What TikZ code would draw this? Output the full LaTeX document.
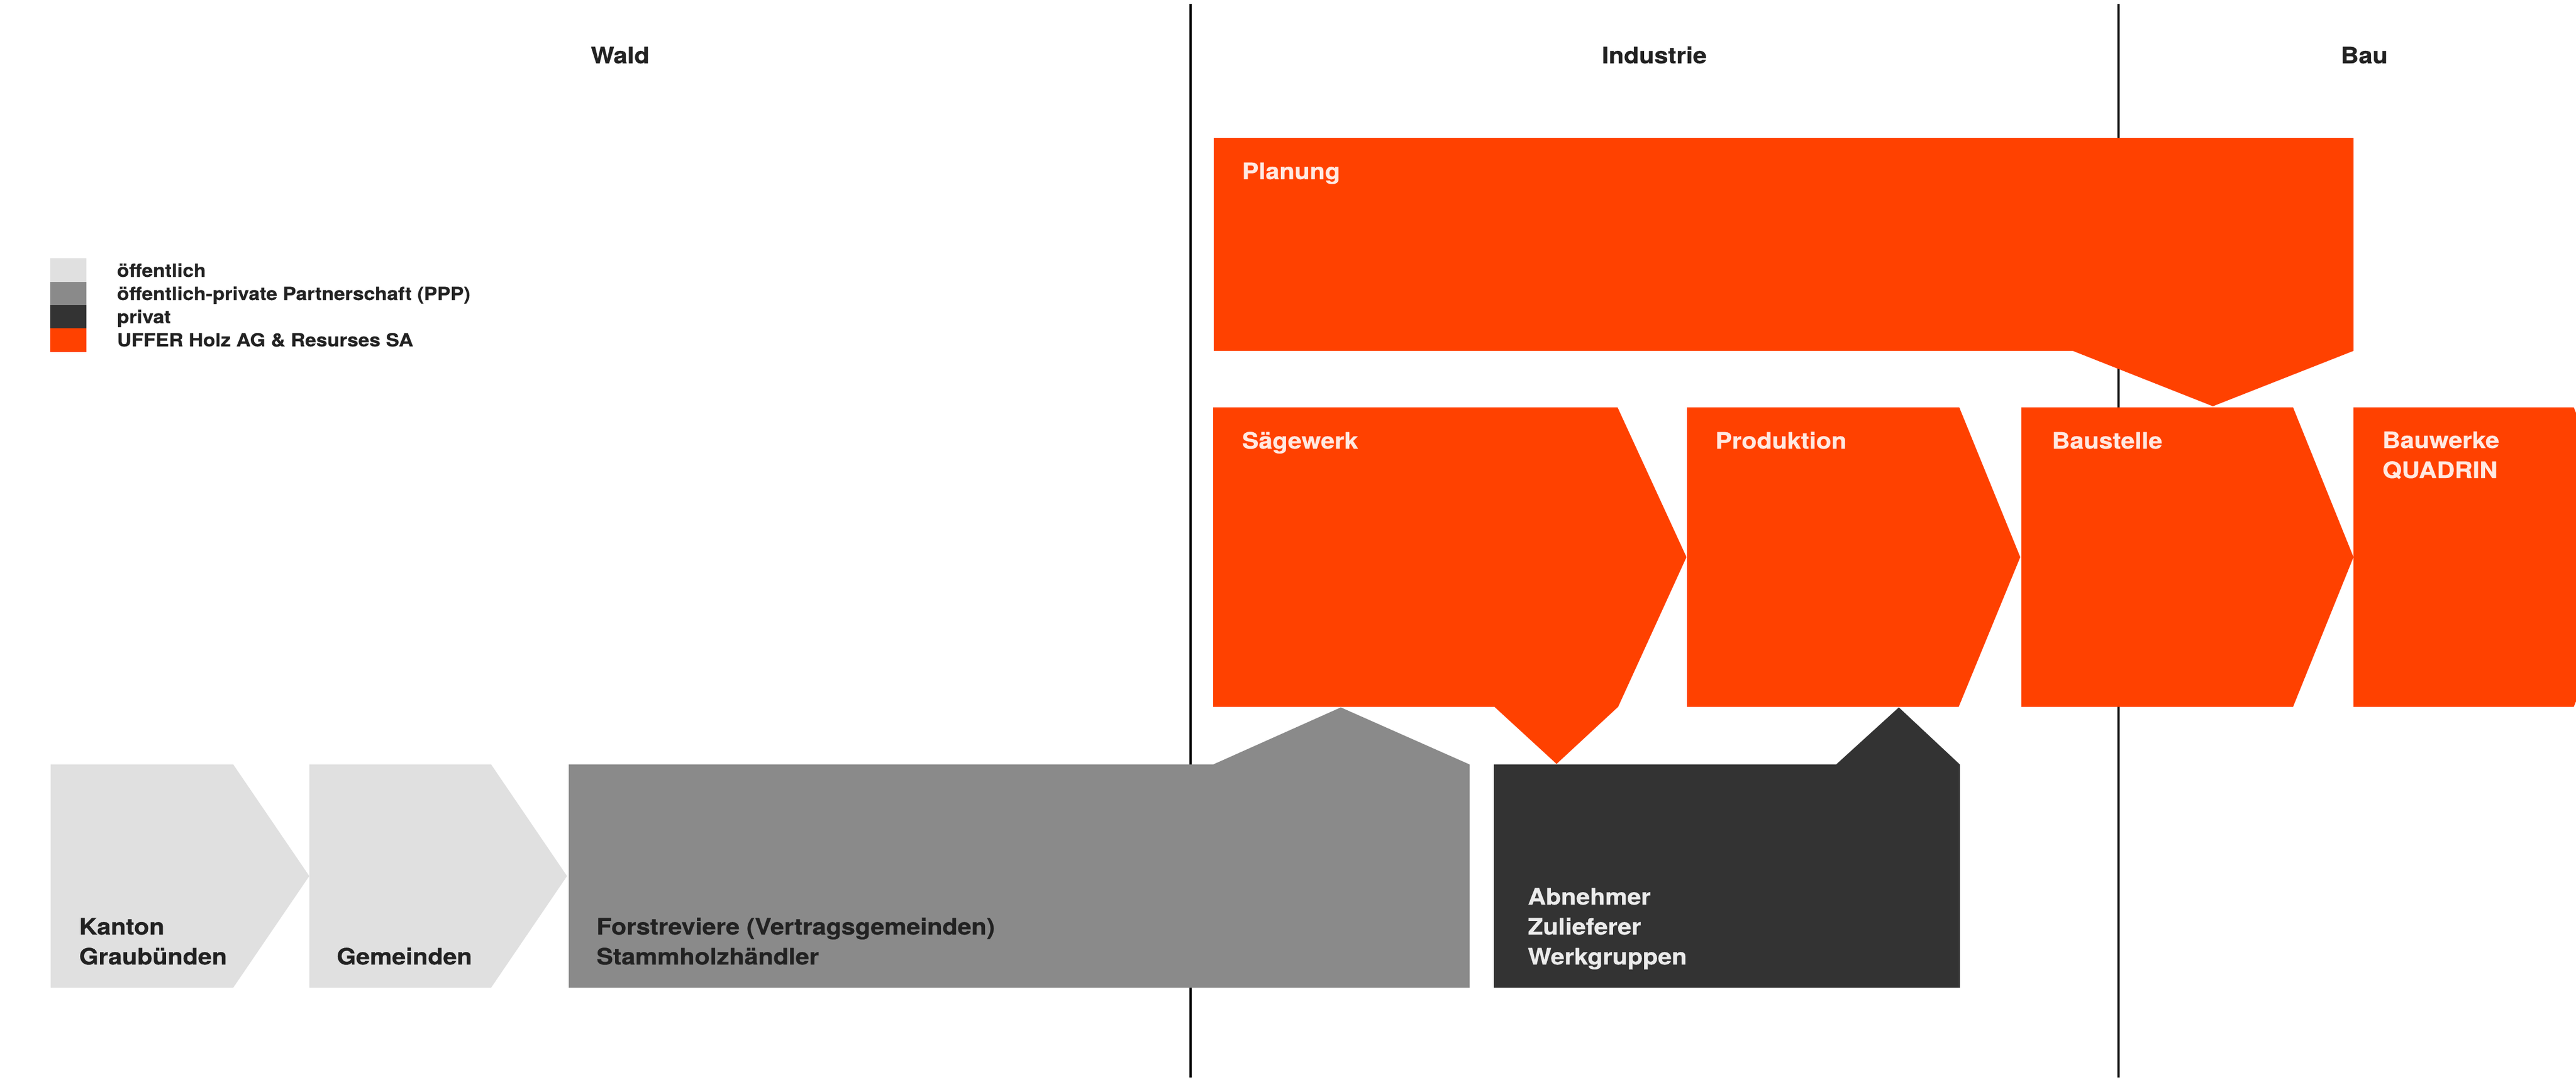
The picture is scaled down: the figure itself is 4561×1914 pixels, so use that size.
\documentclass[tikz,border=0pt]{standalone}
\usepackage{fontspec}
\setmainfont{TeX Gyre Heros}[FakeStretch=1.1,FakeBold=0.6]
\definecolor{uorange}{HTML}{FF4100}
\definecolor{lgrey}{HTML}{E0E0E0}
\definecolor{mgrey}{HTML}{8A8A8A}
\definecolor{dgrey}{HTML}{333333}
\definecolor{ink}{HTML}{222222}
\definecolor{onorange}{HTML}{FFE9E1}
\definecolor{ondark}{HTML}{EBEBEB}
\begin{document}
\begin{tikzpicture}[x=1pt,y=-1pt,
  lbl/.style={anchor=base west,inner sep=0pt,font=\fontsize{40}{48}\selectfont\bfseries},
  inklbl/.style={lbl,text=ink},
  orlbl/.style={lbl,text=onorange},
  dklbl/.style={lbl,text=ondark},
  hdr/.style={anchor=base,inner sep=0pt,text=ink,font=\fontsize{40}{48}\selectfont\bfseries},
  leg/.style={anchor=base west,inner sep=0pt,text=ink,font=\fontsize{32}{38}\selectfont\bfseries},
  divider/.style={line width=3.5pt,black}]
\useasboundingbox (0,0) rectangle (4561,1914);
% column dividers
\coordinate (d1t) at (2108,7);
\coordinate (d1b) at (2108,1907);
\coordinate (d2t) at (3751,7);
\coordinate (d2b) at (3751,1907);
\draw[divider] (d1t) -- (d1b);
\draw[divider] (d2t) -- (d2b);
% headers
\node[hdr] (wald) at (1098,112) {Wald};
\node[hdr] (industrie) at (2929,112) {Industrie};
\node[hdr] (bau) at (4186,112) {Bau};
% legend
\fill[lgrey] (89,457) rectangle (153,499);
\fill[mgrey] (89,499) rectangle (153,540);
\fill[dgrey] (89,540) rectangle (153,581);
\fill[uorange] (89,581) rectangle (153,623);
\node[leg] (leg1) at (207,490) {öffentlich};
\node[leg] (leg2) at (207,531) {öffentlich-private Partnerschaft (PPP)};
\node[leg] (leg3) at (207,572) {privat};
\node[leg] (leg4) at (207,613) {UFFER Holz AG \& Resurses SA};
% Planung
\fill[uorange] (2149,244) -- (4167,244) -- (4167,621) -- (3918,719) -- (3670,621) -- (2149,621) -- cycle;
% orange chain
\fill[uorange] (2148,721) -- (2864,721) -- (2986,986) -- (2865,1251) -- (2756,1352) -- (2646,1251) -- (2148,1251) -- cycle;
\fill[uorange] (2987,721) -- (3469,721) -- (3577,986) -- (3468,1251) -- (2987,1251) -- cycle;
\fill[uorange] (3579,721) -- (4060,721) -- (4167,986) -- (4060,1251) -- (3579,1251) -- cycle;
\fill[uorange] (4167,721) -- (4557,721) -- (4664,986) -- (4557,1251) -- (4167,1251) -- cycle;
% grey chain
\fill[lgrey] (89.5,1353) -- (413,1353) -- (547.6,1550.5) -- (413,1748) -- (89.5,1748) -- cycle;
\fill[lgrey] (547.6,1353) -- (869.6,1353) -- (1004,1550.5) -- (869.6,1748) -- (547.6,1748) -- cycle;
\fill[mgrey] (1007,1353) -- (2148,1353) -- (2374,1252) -- (2602,1353) -- (2602,1748) -- (1007,1748) -- cycle;
\fill[dgrey] (2645,1353) -- (3251,1353) -- (3362,1252) -- (3470,1353) -- (3470,1748) -- (2645,1748) -- cycle;
% labels
\node[orlbl] (planung) at (2199,317) {Planung};
\node[orlbl] (saegewerk) at (2199,794) {Sägewerk};
\node[orlbl] (produktion) at (3037,794) {Produktion};
\node[orlbl] (baustelle) at (3633,794) {Baustelle};
\node[orlbl] (bauwerke) at (4218,793) {Bauwerke};
\node[orlbl] (quadrin) at (4218,846) {QUADRIN};
\node[inklbl] (kanton) at (140,1654) {Kanton};
\node[inklbl] (graub) at (140,1707) {Graubünden};
\node[inklbl] (gemeinden) at (596,1707) {Gemeinden};
\node[inklbl] (forst) at (1056,1654) {Forstreviere (Vertragsgemeinden)};
\node[inklbl] (stamm) at (1056,1707) {Stammholzhändler};
\node[dklbl] (abnehmer) at (2705,1601) {Abnehmer};
\node[dklbl] (zulieferer) at (2705,1654) {Zulieferer};
\node[dklbl] (werkgruppen) at (2705,1707) {Werkgruppen};
\end{tikzpicture}
\end{document}
